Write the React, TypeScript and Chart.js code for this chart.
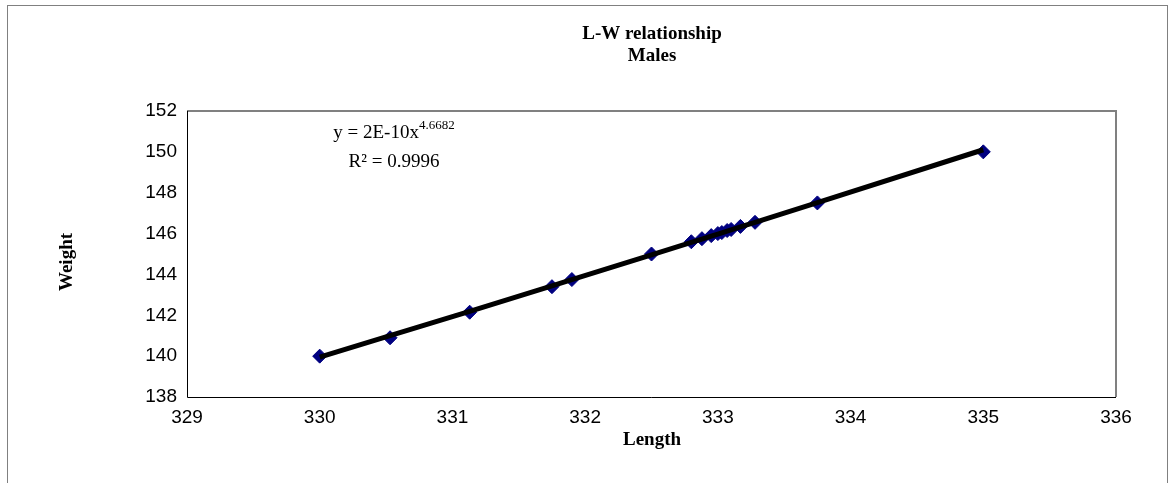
import React, { useEffect, useRef } from "react";
import { Chart, registerables } from "chart.js";

Chart.register(...registerables);

const lengths = [330.0, 330.53, 331.13, 331.75, 331.9, 332.5, 332.8, 332.88, 332.95, 333.0, 333.03, 333.07, 333.1, 333.17, 333.28, 333.75, 335.0];
const weights = [140.0, 140.9, 142.15, 143.4, 143.75, 145.0, 145.6, 145.75, 145.9, 146.0, 146.05, 146.15, 146.2, 146.35, 146.55, 147.5, 150.0];

const xTicks = [329, 330, 331, 332, 333, 334, 335, 336];
const yTicks = [138, 140, 142, 144, 146, 148, 150, 152];

const titleLines = ["L-W relationship", "Males"];
const equationText = "y = 2E-10x";
const equationExp = "4.6682";
const r2Text = "R² = 0.9996";
const xTitle = "Length";
const yTitle = "Weight";

function powerFit(xs: number[], ys: number[]) {
  const n = xs.length;
  let sx = 0, sy = 0, sxx = 0, sxy = 0;
  for (let i = 0; i < n; i++) {
    const lx = Math.log(xs[i]);
    const ly = Math.log(ys[i]);
    sx += lx; sy += ly; sxx += lx * lx; sxy += lx * ly;
  }
  const b = (n * sxy - sx * sy) / (n * sxx - sx * sx);
  const lnA = (sy - b * sx) / n;
  return (x: number) => Math.exp(lnA + b * Math.log(x));
}

export default function App() {
  const ref = useRef<HTMLCanvasElement | null>(null);
  useEffect(() => {
    const canvas = ref.current!;
    const fit = powerFit(lengths, weights);
    const trend = lengths.map((x) => ({ x, y: fit(x) }));
    const pts = lengths.map((x, i) => ({ x, y: weights[i] }));

    const decor = {
      id: "decor",
      beforeDraw(chart: any) {
        const ctx = chart.ctx;
        ctx.save();
        ctx.fillStyle = "#ffffff";
        ctx.fillRect(0, 0, chart.width, chart.height);
        ctx.strokeStyle = "#808080";
        ctx.lineWidth = 1;
        ctx.strokeRect(7.5, 5.5, 1160, 490);
        ctx.restore();
      },
      afterDraw(chart: any) {
        const ctx = chart.ctx;
        const a = chart.chartArea;
        ctx.save();
        ctx.strokeStyle = "#808080";
        ctx.lineWidth = 2;
        ctx.beginPath();
        ctx.moveTo(a.left, a.top);
        ctx.lineTo(a.right, a.top);
        ctx.lineTo(a.right, a.bottom);
        ctx.stroke();
        ctx.strokeStyle = "#000000";
        ctx.lineWidth = 1;
        ctx.beginPath();
        ctx.moveTo(a.left + 0.5, a.top);
        ctx.lineTo(a.left + 0.5, a.bottom + 0.5);
        ctx.lineTo(a.right, a.bottom + 0.5);
        ctx.stroke();
        ctx.fillStyle = "#000000";
        ctx.textAlign = "center";
        ctx.textBaseline = "middle";
        ctx.font = "bold 19px 'Liberation Serif', 'Times New Roman', serif";
        const cx = 652;
        ctx.fillText(titleLines[0], cx, 34);
        ctx.fillText(titleLines[1], cx, 56);
        ctx.fillText(xTitle, cx, 440);
        ctx.save();
        ctx.translate(67, 262);
        ctx.rotate(-Math.PI / 2);
        ctx.fillText(yTitle, 0, 0);
        ctx.restore();
        ctx.font = "19px 'Liberation Serif', 'Times New Roman', serif";
        ctx.textAlign = "left";
        const w1 = ctx.measureText(equationText).width;
        ctx.font = "13px 'Liberation Serif', 'Times New Roman', serif";
        const w2 = ctx.measureText(equationExp).width;
        const ex = 394 - (w1 + w2) / 2;
        ctx.font = "19px 'Liberation Serif', 'Times New Roman', serif";
        ctx.textBaseline = "alphabetic";
        ctx.fillText(equationText, ex, 138);
        ctx.font = "13px 'Liberation Serif', 'Times New Roman', serif";
        ctx.fillText(equationExp, ex + w1, 129);
        ctx.font = "19px 'Liberation Serif', 'Times New Roman', serif";
        ctx.textAlign = "center";
        ctx.fillText(r2Text, 394, 167);
        ctx.restore();
      },
    };

    const chart = new Chart(canvas, {
      type: "scatter",
      data: {
        datasets: [
          {
            type: "line",
            label: "trend",
            data: trend,
            borderColor: "#000000",
            borderWidth: 5,
            pointRadius: 0,
            fill: false,
            order: 0,
          } as any,
          {
            label: "data",
            data: pts,
            pointStyle: "rectRot",
            pointRadius: 7,
            backgroundColor: "#000080",
            borderColor: "#000080",
            borderWidth: 1,
            order: 1,
          },
        ],
      },
      options: {
        responsive: false,
        animation: false,
        devicePixelRatio: 1,
        layout: { padding: { left: 7, top: 111, right: 56, bottom: 0 } },
        plugins: { legend: { display: false }, tooltip: { enabled: false }, title: { display: false } },
        scales: {
          x: {
            type: "linear",
            min: 329,
            max: 336,
            afterBuildTicks: (s: any) => { s.ticks = xTicks.map((v) => ({ value: v })); },
            afterFit: (s: any) => { s.height = 86; },
            border: { display: false },
            grid: { display: false, drawOnChartArea: false, drawTicks: true, tickLength: 6, color: "#000000" },
            ticks: {
              color: "#000000",
              font: { family: "'Liberation Sans', Arial, sans-serif", size: 19 },
              padding: 3,
              maxRotation: 0,
            },
          },
          y: {
            type: "linear",
            min: 138,
            max: 152,
            afterBuildTicks: (s: any) => { s.ticks = yTicks.map((v) => ({ value: v })); },
            afterFit: (s: any) => { s.width = 180; },
            border: { display: false },
            grid: { display: false, drawOnChartArea: false, drawTicks: true, tickLength: 6, color: "#000000" },
            ticks: {
              color: "#000000",
              font: { family: "'Liberation Sans', Arial, sans-serif", size: 19 },
              padding: 4,
            },
          },
        },
      },
      plugins: [decor],
    });
    return () => chart.destroy();
  }, []);
  return (
    <div style={{ position: "absolute", left: 0, top: 0, width: 1172, height: 483 }}>
      <canvas ref={ref} width={1172} height={483} style={{ display: "block", width: 1172, height: 483 }} />
    </div>
  );
}
